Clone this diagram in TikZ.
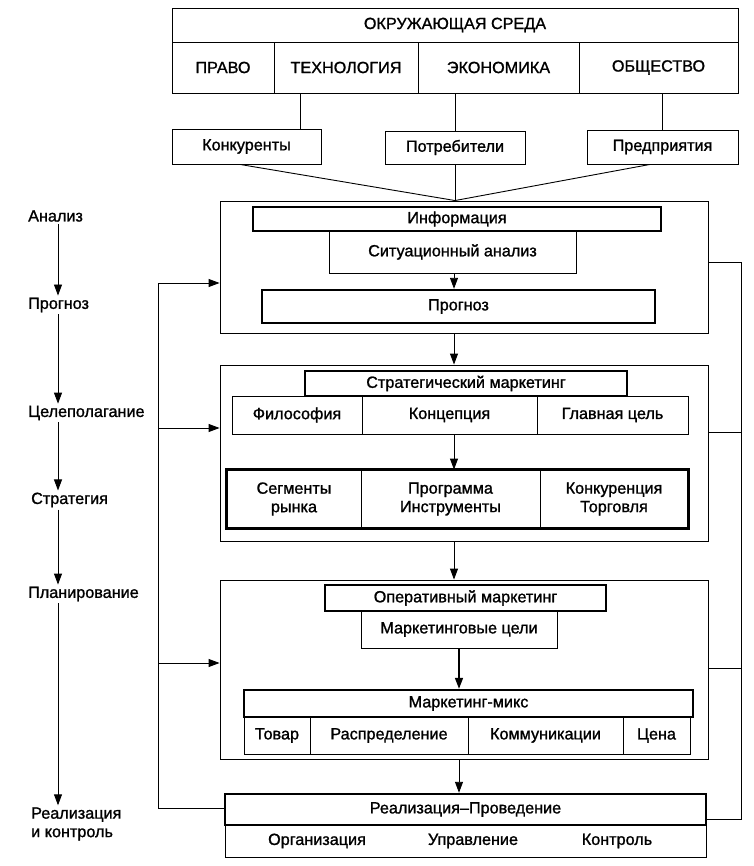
\documentclass[tikz,border=0pt]{standalone}
\usepackage{fontspec}
\setmainfont{Liberation Sans}[FakeBold=1.2]
\usetikzlibrary{arrows.meta}
\tikzset{
  lbl/.style={font=\fontsize{16.2}{18.5}\selectfont},
  cell/.style={draw, line width=0.9pt, inner sep=0pt, lbl, align=center},
  thickcell/.style={cell, line width=2.4pt},
  conn/.style={line width=0.9pt},
  arr/.style={line width=0.9pt, -{Triangle[width=8pt,length=11pt]}},
  side/.style={lbl, anchor=west, inner sep=2pt, align=left},
}
\newcommand\mybox[7][]{%
  \pgfmathsetmacro\bw{#5-#3}\pgfmathsetmacro\bh{#6-#4}%
  \pgfmathsetmacro\bcx{(#3+#5)/2}\pgfmathsetmacro\bcy{(#4+#6)/2}%
  \node[cell,minimum width=\bw pt,minimum height=\bh pt,#1] (#2) at (\bcx,\bcy) {#7};}
\begin{document}
\begin{tikzpicture}[x=1pt,y=-1pt]
\useasboundingbox (0,0) rectangle (753,866);
% environment
\mybox{env}{172}{8}{738}{42}{ОКРУЖАЮЩАЯ СРЕДА}
\mybox{pravo}{172}{42}{274}{93}{ПРАВО}
\mybox{tech}{274}{42}{418}{93}{ТЕХНОЛОГИЯ}
\mybox{econ}{418}{42}{579}{93}{ЭКОНОМИКА}
\mybox{obsh}{579}{42}{738}{93}{ОБЩЕСТВО}
\mybox{konk}{172}{129}{321}{164}{Конкуренты}
\mybox{potr}{385}{131}{525}{164}{Потребители}
\mybox{pred}{587}{130}{738}{164}{Предприятия}
\draw[conn] (tech.south -| 300,0) -- (konk.north -| 300,0);
\draw[conn] (econ.south -| potr.north) -- (potr.north);
\draw[conn] (obsh.south -| pred.north) -- (pred.north);
% analysis block
\mybox{anbox}{220}{201}{708}{333}{}
\draw[conn] (konk.south -| 240,0) -- (anbox.north -| potr.south);
\draw[conn] (pred.south -| 650,0) -- (anbox.north -| potr.south);
\draw[conn] (potr.south) -- (anbox.north -| potr.south);
\mybox[thickcell]{info}{253}{207}{661}{231}{Информация}
\mybox{sit}{329}{231}{576}{273}{Ситуационный анализ}
\mybox[thickcell]{prog}{262}{290}{655}{323}{Прогноз}
\draw[arr] (sit.south -| 454,0) -- (prog.north -| 454,0);
% strategic block
\mybox{strbox}{220}{365}{708}{541}{}
\draw[arr] (anbox.south -| 454,0) -- (strbox.north -| 454,0);
\mybox[thickcell]{stm}{305}{371}{627}{396}{Стратегический маркетинг}
\mybox{fil}{232}{396}{362}{434}{Философия}
\mybox{konc}{362}{396}{537}{434}{Концепция}
\mybox{glav}{537}{396}{688}{434}{Главная цель}
\mybox{seg}{227}{470}{361}{528}{Сегменты\\рынка}
\mybox{prg}{361}{470}{540}{528}{Программа\\Инструменты}
\mybox{kon}{540}{470}{688}{528}{Конкуренция\\Торговля}
\draw[line width=2.4pt] (seg.north west) rectangle (kon.south east);
\draw[arr] (konc.south -| 454,0) -- (prg.north -| 454,0);
% operative block
\mybox{opbox}{220}{580}{708}{759}{}
\draw[arr] (strbox.south -| 454,0) -- (opbox.north -| 454,0);
\mybox[thickcell]{opm}{325}{585}{606}{611}{Оперативный маркетинг}
\mybox{mc}{361}{611}{557}{648}{Маркетинговые цели}
\mybox[thickcell]{mix}{244}{690}{693}{717}{Маркетинг-микс}
\mybox{tov}{244}{717}{310}{754}{Товар}
\mybox{rasp}{310}{717}{468}{754}{Распределение}
\mybox{komm}{468}{717}{623}{754}{Коммуникации}
\mybox{cena}{623}{717}{690}{754}{Цена}
\draw[line width=1.6pt, -{Triangle[width=8pt,length=11pt]}] (mc.south -| 459,0) -- (mix.north -| 459,0);
% realization
\mybox{realrow}{225}{825}{706}{857}{}
\mybox[thickcell]{real}{225}{794}{706}{825}{Реализация–Проведение}
\draw[arr] (opbox.south -| 459,0) -- (real.north -| 459,0);
\node[lbl] (org) at (317,841) {Организация};
\node[lbl] (upr) at (473,841) {Управление};
\node[lbl] (ktr) at (617,841) {Контроль};
% left feedback
\coordinate (fbA) at (158,283);
\coordinate (fbB) at (158,428);
\coordinate (fbC) at (158,663);
\draw[conn] (real.west |- 0,808) -| (fbA);
\draw[arr] (fbA) -- (anbox.west |- fbA);
\draw[arr] (fbB) -- (strbox.west |- fbB);
\draw[arr] (fbC) -- (opbox.west |- fbC);
% right feedback
\coordinate (rfA) at (741,262);
\coordinate (rfD) at (741,819);
\draw[conn] (anbox.east |- rfA) -- (rfA) -- (rfD) -- (real.east |- rfD);
\draw[conn] (strbox.east |- 0,432) -- (741,432);
\draw[conn] (opbox.east |- 0,668) -- (741,668);
% left column
\node[side] (s1) at (26,216) {Анализ};
\node[side] (s2) at (26,305) {Прогноз};
\node[side] (s3) at (26,413) {Целеполагание};
\node[side] (s4) at (29,500) {Стратегия};
\node[side] (s5) at (26,594) {Планирование};
\node[side] (s6) at (29,824) {Реализация\\и контроль};
\coordinate (lx) at (58,0);
\draw[arr] (s1.south -| lx) -- (s2.north -| lx);
\draw[arr] (s2.south -| lx) -- (s3.north -| lx);
\draw[arr] (s3.south -| lx) -- (s4.north -| lx);
\draw[arr] (s4.south -| lx) -- (s5.north -| lx);
\draw[arr] (s5.south -| lx) -- (s6.north -| lx);
\end{tikzpicture}
\end{document}
